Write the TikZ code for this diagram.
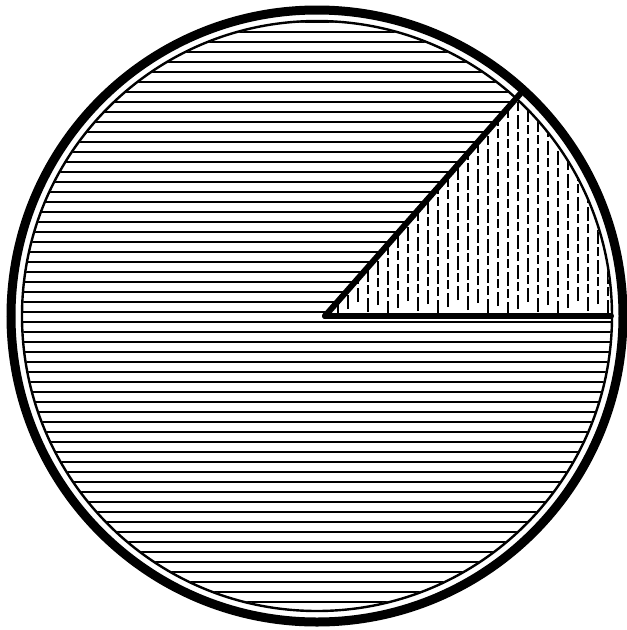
\documentclass[tikz,border=0pt]{standalone}
\begin{document}
\begin{tikzpicture}[x=1pt,y=-1pt,
  hatch/.style={line width=2.5pt,black},
  vhatch/.style={line width=2.5pt,black,dash pattern=on 14pt off 4pt on 9pt off 3pt},
  rim/.style={line width=9pt,black},
  innerrim/.style={line width=2.4pt,black},
  edge/.style={line width=6pt,black,line cap=round}]
\useasboundingbox (0,0) rectangle (627,630);
\coordinate (c) at (317,316);
\coordinate (o) at (325,316);
% horizontal hatching
\begin{scope}
  \clip (c) circle (294);
  \foreach \k in {-31,...,31} {
    \draw[hatch] (0,{312+\k*10}) -- (627,{312+\k*10});
  }
  % sector
  \fill[white] (o) -- ++(0:320) arc[start angle=0,end angle=-48.7,radius=320] -- cycle;
  \begin{scope}
    \clip (o) -- ++(0:320) arc[start angle=0,end angle=-48.7,radius=320] -- cycle;
    \foreach \k in {0,...,30} {
      \draw[vhatch] ({338+\k*10},{316-mod(\k*7,17)}) -- ({338+\k*10},0);
    }
  \end{scope}
\end{scope}
\draw[innerrim] (c) circle (295);
\draw[rim] (c) circle (306);
\draw[edge] (o) -- ++(-48.7:296) coordinate (e1);
\draw[edge] (o) -- (611,316) coordinate (e2);
\end{tikzpicture}
\end{document}
